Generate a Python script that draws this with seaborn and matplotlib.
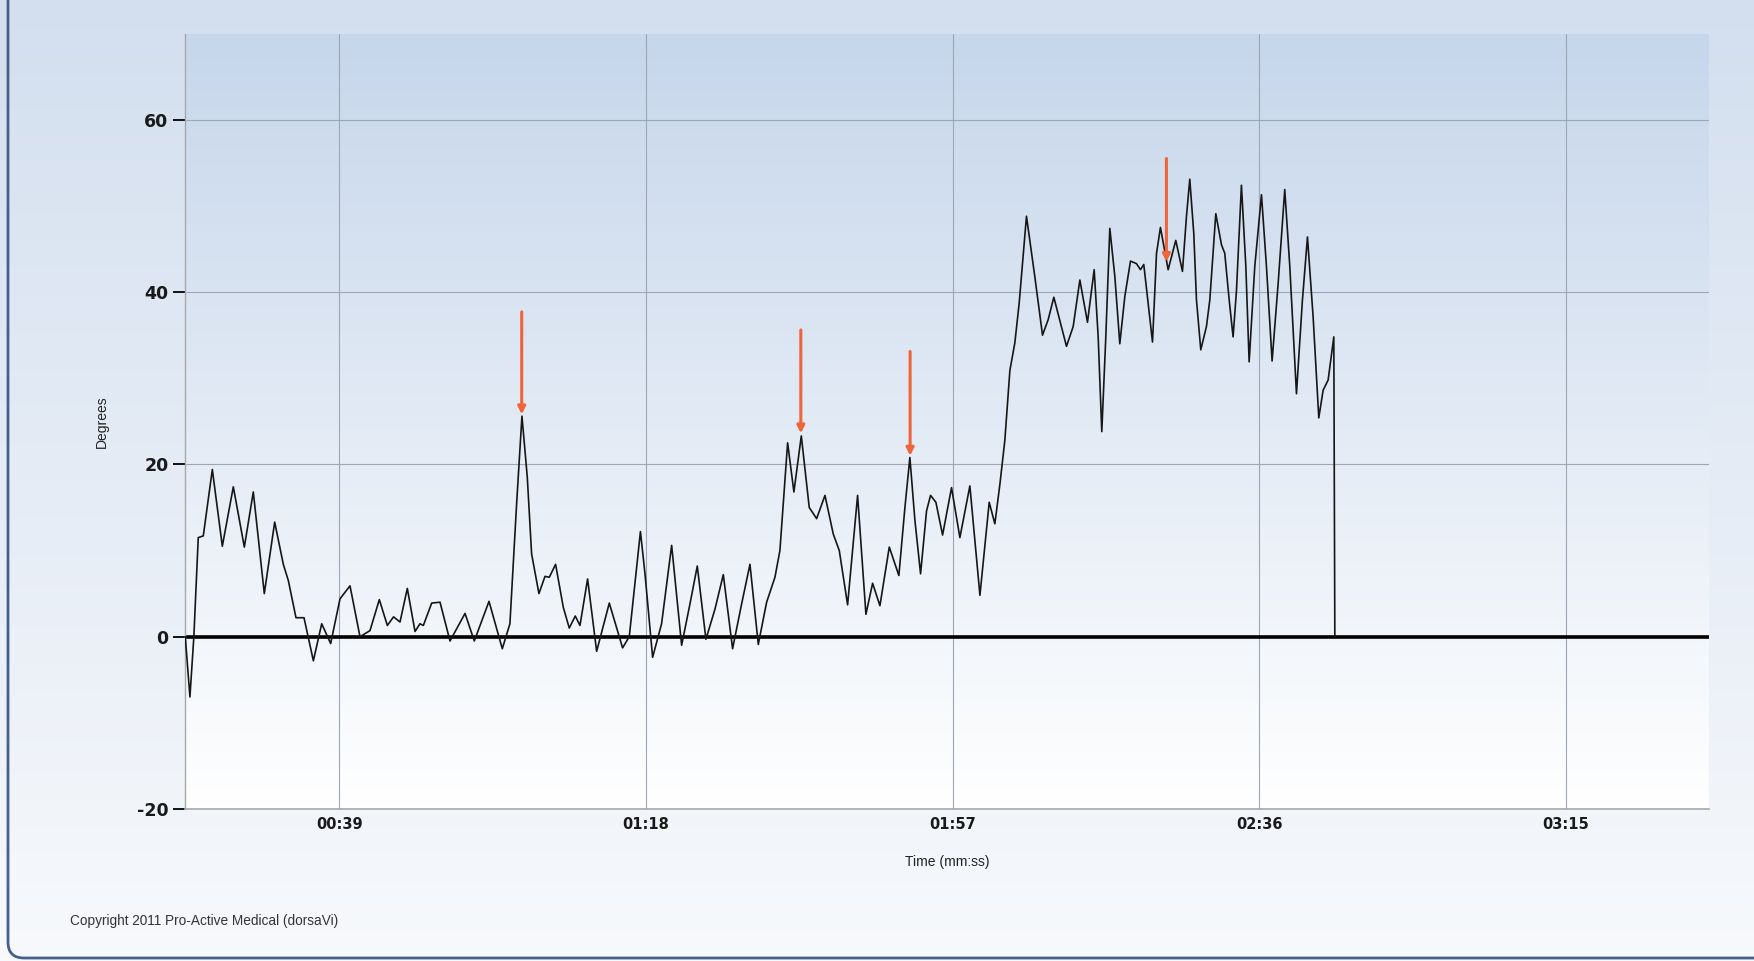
import numpy as np
import pandas as pd
import seaborn as sns
import matplotlib.pyplot as plt
from matplotlib.colors import LinearSegmentedColormap
from matplotlib.patches import FancyBboxPatch
from matplotlib.ticker import FuncFormatter
from matplotlib.transforms import IdentityTransform

# trunk angle trace (seconds, degrees)
time_s = [19.41, 20.0, 20.5, 21.06, 21.7, 22.85, 24.12, 25.52, 26.92, 28.06, 29.46, 30.78,
          31.88, 32.52, 33.49, 34.51, 35.70, 36.76, 37.90, 39.09, 40.36, 41.63, 42.9, 44.09,
          45.11, 45.9, 46.72, 47.65, 48.63, 49.26, 49.69, 50.75, 51.81, 53.08, 54.99, 56.17,
          58.04, 59.73, 60.7, 61.55, 62.23, 62.91, 63.46, 64.39, 65.16, 65.71, 66.51, 67.49,
          68.25, 69.01, 69.61, 70.58, 71.73, 73.34, 75.03, 75.88, 77.3, 77.88, 78.85, 79.99,
          81.27, 82.54, 83.6, 84.53, 85.63, 86.78, 87.84, 89.02, 90.17, 91.23, 92.29, 93.35,
          94.41, 95.04, 96.02, 96.82, 97.76, 98.77, 99.71, 100.77, 101.83, 102.59, 103.65,
          104.92, 105.98, 106.83, 107.76, 108.95, 110.17, 110.94, 111.57, 112.21, 112.93,
          113.69, 114.2, 114.88, 115.73, 116.87, 117.93, 119.2, 120.48, 121.66, 122.38,
          123.02, 123.65, 124.29, 124.92, 125.47, 126.4, 127.46, 128.44, 129.16, 129.88,
          131.49, 132.34, 133.19, 134.16, 135.01, 135.52, 135.98, 136.49, 137.0, 137.64,
          138.27, 138.91, 139.63, 140.39, 140.9, 141.32, 141.88, 142.43, 142.94, 143.44,
          144.42, 145.39, 146.24, 146.75, 147.17, 147.68, 148.02, 148.57, 149.29, 149.72,
          150.48, 151.2, 151.62, 152.18, 152.68, 153.11, 153.74, 154.3, 154.72, 155.44,
          156.29, 156.92, 157.64, 158.41, 159.25, 159.89, 160.74, 161.5, 162.14, 162.86,
          163.58, 164.13, 164.77, 165.49, 165.62]
degrees = [0.0, -7.0, 0.0, 11.5, 11.7, 19.4, 10.5, 17.4, 10.4, 16.8, 5.0, 13.3,
           8.4, 6.5, 2.2, 2.2, -2.8, 1.5, -0.8, 4.4, 5.9, 0.0, 0.7, 4.3,
           1.3, 2.3, 1.7, 5.6, 0.6, 1.5, 1.3, 3.9, 4.0, -0.5, 2.7, -0.5,
           4.1, -1.4, 1.5, 15.4, 25.6, 18.5, 9.6, 5.0, 7.0, 6.9, 8.4, 3.4,
           1.0, 2.4, 1.3, 6.7, -1.7, 3.9, -1.3, 0.0, 12.2, 7.3, -2.4, 1.5,
           10.6, -1.0, 3.8, 8.2, -0.3, 3.2, 7.2, -1.4, 3.8, 8.4, -0.9, 4.0,
           6.9, 10.0, 22.5, 16.8, 23.3, 15.0, 13.7, 16.4, 11.9, 10.0, 3.7,
           16.4, 2.6, 6.2, 3.6, 10.4, 7.1, 15.0, 20.8, 13.5, 7.3,
           14.6, 16.4, 15.6, 11.8, 17.3, 11.5, 17.5, 4.8, 15.6, 13.1,
           17.7, 22.8, 30.9, 34.1, 38.7, 48.8, 41.8, 35.0, 36.8, 39.4,
           33.7, 36.0, 41.4, 36.5, 42.6, 34.8, 23.8, 34.8, 47.4, 41.8,
           34.0, 39.5, 43.6, 43.3, 42.6, 43.2, 38.7, 34.2, 44.5, 47.5,
           42.6, 46.0, 42.4, 48.8, 53.1, 46.8, 39.1, 33.3, 36.0, 39.1,
           49.1, 45.5, 44.5, 39.1, 34.8, 40.2, 52.4, 43.0, 31.9, 43.0,
           51.3, 43.0, 32.0, 41.0, 51.9, 43.0, 28.2, 39.1, 46.4, 37.1,
           25.4, 28.6, 29.8, 34.8, 0.0]

# orange markers: time, arrow tail, arrow tip
arrow_time = [62.2, 97.7, 111.6, 144.2]
arrow_from = [37.7, 35.6, 33.1, 55.5]
arrow_to = [25.8, 23.6, 21.0, 43.5]

x_ticks = [39, 78, 117, 156, 195]
y_ticks = [-20, 0, 20, 40, 60]

sns.set_theme(style="white")
plt.rcParams['font.family'] = ['DejaVu Sans']
plt.rcParams['axes.unicode_minus'] = False

df = pd.DataFrame({"t": time_s, "deg": degrees})

fig = plt.figure(figsize=(17.54, 9.61), dpi=100)

# page background
bg = fig.add_axes([0, 0, 1, 1], zorder=-10)
page_cmap = LinearSegmentedColormap.from_list("page", ["#f7f9fc", "#d3dfef"])
bg.imshow(np.linspace(0, 1, 256).reshape(-1, 1), cmap=page_cmap, aspect="auto",
          origin="lower", extent=[0, 1, 0, 1])
bg.set_axis_off()

frame = FancyBboxPatch((8, 3), 1900, 1100, boxstyle="round,pad=0,rounding_size=16",
                       transform=IdentityTransform(), fc="none", ec="#44608f", lw=2)
fig.add_artist(frame)

ax = fig.add_axes([0.1055, 0.1582, 0.8688, 0.8068])
ax.patch.set_alpha(0)
plot_cmap = LinearSegmentedColormap.from_list("plot", ["#ffffff", "#c6d6eb"])
ax.imshow(np.linspace(0, 1, 256).reshape(-1, 1), cmap=plot_cmap, aspect="auto",
          origin="lower", extent=[0, 1, 0, 1], transform=ax.transAxes, zorder=-5)

ax.axhline(0, color="black", lw=2.6, zorder=2)
sns.lineplot(data=df, x="t", y="deg", ax=ax, color="#161616", lw=1.2,
             estimator=None, sort=False, zorder=3)

for xa, y0, y1 in zip(arrow_time, arrow_from, arrow_to):
    ax.annotate("", xy=(xa, y1), xytext=(xa, y0),
                arrowprops=dict(arrowstyle="-|>", color="#f0643a", lw=2.2,
                                mutation_scale=11, shrinkA=0, shrinkB=0),
                zorder=4)

ax.set_xlim(19.38, 213.2)
ax.set_ylim(-20, 70)
ax.set_xticks(x_ticks)
ax.set_yticks(y_ticks)
ax.xaxis.set_major_formatter(FuncFormatter(lambda v, p: "%02d:%02d" % (int(v) // 60, int(v) % 60)))
ax.grid(True, color="#9ca6b4", lw=0.8)
ax.set_axisbelow(True)

for lab in ax.get_yticklabels():
    lab.set_fontweight("bold")
    lab.set_fontsize(12.5)
for lab in ax.get_xticklabels():
    lab.set_fontweight("bold")
    lab.set_fontsize(10.5)
ax.tick_params(axis="y", length=9, width=1.3, color="black", pad=3, labelcolor="#1a1a1a", left=True)
ax.tick_params(axis="x", length=0, pad=6, labelcolor="#1a1a1a")

for side in ["top", "right"]:
    ax.spines[side].set_visible(False)
ax.spines["left"].set_color("#a8a8a8")
ax.spines["left"].set_linewidth(1)
ax.spines["bottom"].set_color("#a8a8a8")
ax.spines["bottom"].set_linewidth(1.2)

ax.set_xlabel("Time (mm:ss)", fontsize=10, family="Liberation Sans", color="#222222")
ax.set_ylabel("Degrees", fontsize=10, family="Liberation Sans", color="#222222")
ax.xaxis.set_label_coords(0.5, -0.06)
ax.yaxis.set_label_coords(-0.050, 0.5)

fig.text(70 / 1754, 1 - 921 / 961, "Copyright 2011 Pro-Active Medical (dorsaVi)",
         fontsize=9.8, family="Liberation Sans", color="#333333", va="center", ha="left")

fig.savefig("out.png", dpi=100)
